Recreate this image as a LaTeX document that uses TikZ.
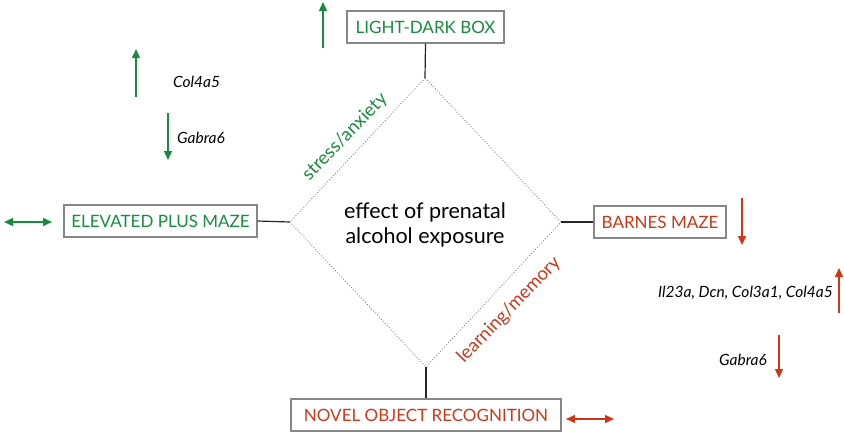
\documentclass[tikz,border=0pt]{standalone}
\usepackage{fontspec}
\setmainfont{Lato}
\usetikzlibrary{arrows.meta}
\definecolor{pgreen}{RGB}{22,140,60}
\definecolor{pred}{RGB}{205,55,25}
\definecolor{boxgray}{RGB}{135,135,135}
\begin{document}
\begin{tikzpicture}[x=1pt,y=-1pt,
  testbox/.style={draw=boxgray, line width=1.2pt, inner sep=0pt,
    minimum height=32pt, font=\fontsize{17}{19}\selectfont},
  link/.style={line width=1.2pt, black!85},
  edge/.style={draw=black!50, line width=0.9pt, dotted},
  tip/.style={-{Triangle[length=9pt,width=8pt]}, line width=1.4pt},
  both/.style={{Triangle[length=9pt,width=8pt]}-{Triangle[length=9pt,width=8pt]}, line width=1.4pt},
  gene/.style={font=\fontsize{15.5}{17}\selectfont\itshape, inner sep=0pt},
  axis/.style={font=\fontsize{18.5}{20}\selectfont, inner sep=0pt, rotate=46}
]
\useasboundingbox (0,0) rectangle (844,432);

% central diamond
\coordinate (dtop) at (425,78);
\coordinate (dleft) at (290,222);
\coordinate (dright) at (561,222);
\coordinate (dbottom) at (426,367);
\draw[edge] (dtop) -- (dright) -- (dbottom) -- (dleft) -- cycle;
\node[align=center, font=\fontsize{21.5}{25}\selectfont] (effect) at (425,225)
  {effect of prenatal\\alcohol exposure};

% behavioural tests
\node[testbox, minimum width=157pt, text=pgreen] (ldb) at (425.5,27) {LIGHT-DARK BOX};
\node[testbox, minimum width=193pt, text=pgreen] (epm) at (160.5,221) {ELEVATED PLUS MAZE};
\node[testbox, minimum width=132pt, text=pred] (bm) at (660,222) {BARNES MAZE};
\node[testbox, minimum width=270pt, text=pred] (nor) at (426,415) {NOVEL OBJECT RECOGNITION};

\draw[link] (ldb.south) -- (dtop);
\draw[link] (epm.east) -- (dleft);
\draw[link] (bm.west) -- (dright);
\draw[link] (nor.north) -- (dbottom);

% domain labels
\node[axis, text=pgreen] (stress) at (345,137) {stress/anxiety};
\node[axis, text=pred] (learn) at (509,310) {learning/memory};

% stress/anxiety outcomes
\coordinate (ldbA) at (323,48); \coordinate (ldbB) at (323,2);
\draw[tip, pgreen] (ldbA) -- (ldbB);
\coordinate (epmA) at (4,222); \coordinate (epmB) at (52,222);
\draw[both, pgreen] (epmA) -- (epmB);
\coordinate (colA) at (136,97); \coordinate (colB) at (136,49);
\draw[tip, pgreen] (colA) -- (colB);
\node[gene, anchor=west] (col) at (173,82) {Col4a5};
\coordinate (gabA) at (168,113); \coordinate (gabB) at (168,160);
\draw[tip, pgreen] (gabA) -- (gabB);
\node[gene, anchor=west] (gab) at (177,138) {Gabra6};

% learning/memory outcomes
\coordinate (bmA) at (742,198); \coordinate (bmB) at (742,245);
\draw[tip, pred] (bmA) -- (bmB);
\coordinate (norA) at (566,419); \coordinate (norB) at (614,419);
\draw[both, pred] (norA) -- (norB);
\coordinate (upA) at (839,313); \coordinate (upB) at (839,268);
\draw[tip, pred] (upA) -- (upB);
\node[gene, anchor=east] (genes) at (833,293) {Il23a, Dcn, Col3a1, Col4a5};
\coordinate (dnA) at (779,335); \coordinate (dnB) at (779,378);
\draw[tip, pred] (dnA) -- (dnB);
\node[gene, anchor=east] (gab2) at (767,360) {Gabra6};
\end{tikzpicture}
\end{document}
